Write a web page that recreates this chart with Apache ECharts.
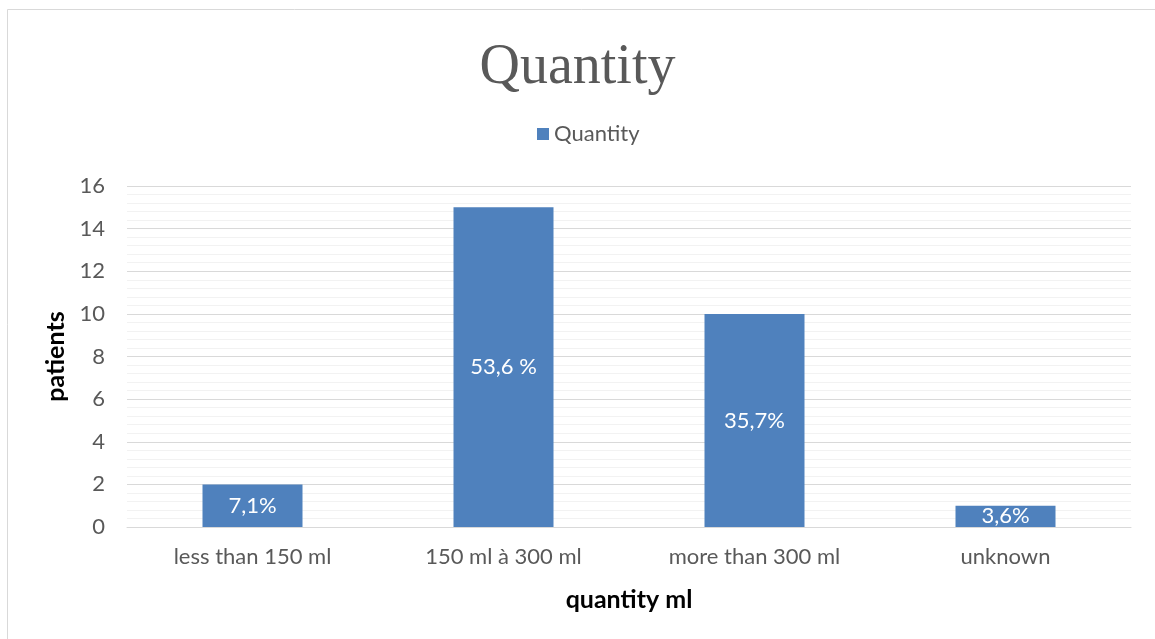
<!DOCTYPE html>
<html>
<head>
<meta charset="utf-8">
<script src="https://cdn.jsdelivr.net/npm/echarts@6/dist/echarts.min.js"></script>
<style>
  html, body { margin: 0; padding: 0; background: #ffffff; }
  #chart { width: 1155px; height: 639px; }
</style>
</head>
<body>
<div id="chart"></div>
<script>
// Patients grouped by quantity (ml)
const categories = ['less than 150 ml', '150 ml à 300 ml', 'more than 300 ml', 'unknown'];
const patients = [2, 15, 10, 1];
const shareLabels = ['7,1%', '53,6 %', '35,7%', '3,6%'];
const yTicks = { min: 0, max: 16, interval: 2, minorInterval: 0.4 };

const textGray = '#595959';
const sansFont = 'Lato, "Liberation Sans", sans-serif';

const chart = echarts.init(document.getElementById('chart'), null, { renderer: 'canvas' });

chart.setOption({
  backgroundColor: '#ffffff',
  animation: false,
  graphic: [{
    type: 'rect',
    shape: { x: 7.5, y: 9.5, width: 1200, height: 700 },
    style: { fill: 'none', stroke: '#d9d9d9', lineWidth: 1 },
    silent: true
  }],
  title: {
    text: 'Quantity',
    left: 'center',
    top: 35,
    textStyle: {
      fontFamily: '"Liberation Serif", serif',
      fontSize: 56,
      fontWeight: 'normal',
      color: textGray
    }
  },
  legend: {
    top: 118,
    left: 532,
    itemWidth: 12,
    itemHeight: 12,
    itemGap: 6,
    icon: 'rect',
    textStyle: { fontFamily: sansFont, fontSize: 22, color: textGray },
    data: ['Quantity']
  },
  grid: { left: 127, right: 24, top: 186, bottom: 112, containLabel: false },
  xAxis: {
    type: 'category',
    data: categories,
    name: 'quantity ml',
    nameLocation: 'middle',
    nameGap: 60,
    nameTextStyle: { fontFamily: sansFont, fontSize: 25, fontWeight: 'bold', color: '#000000' },
    axisLine: { show: true, lineStyle: { color: '#d9d9d9', width: 1 } },
    axisTick: { show: false },
    axisLabel: { fontFamily: sansFont, fontSize: 22, color: textGray, margin: 19 }
  },
  yAxis: {
    type: 'value',
    min: yTicks.min,
    max: yTicks.max,
    interval: yTicks.interval,
    name: 'patients',
    nameLocation: 'middle',
    nameGap: 49,
    nameTextStyle: { fontFamily: sansFont, fontSize: 25, fontWeight: 'bold', color: '#000000' },
    axisLine: { show: false },
    axisTick: { show: false },
    axisLabel: { fontFamily: sansFont, fontSize: 22, color: textGray, margin: 22 },
    splitLine: { show: true, lineStyle: { color: '#d9d9d9', width: 1 } },
    minorTick: { show: false, splitNumber: yTicks.interval / yTicks.minorInterval },
    minorSplitLine: { show: true, lineStyle: { color: '#f2f2f2', width: 1 } }
  },
  series: [{
    name: 'Quantity',
    type: 'bar',
    data: patients,
    barWidth: 100,
    itemStyle: { color: '#4f81bd' },
    label: {
      show: true,
      position: 'inside',
      fontFamily: sansFont,
      fontSize: 22,
      color: '#ffffff',
      formatter: (p) => shareLabels[p.dataIndex]
    }
  }]
});
</script>
</body>
</html>
